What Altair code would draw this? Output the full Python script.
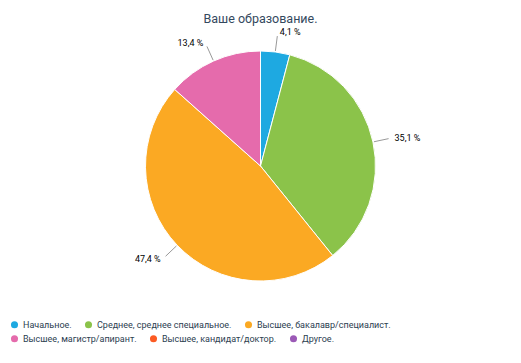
import altair as alt
import pandas as pd

categories = ["Начальное.", "Среднее, среднее специальное.", "Высшее, бакалавр/специалист.",
              "Высшее, магистр/апирант.", "Высшее, кандидат/доктор.", "Другое."]
values = [4.1, 35.1, 47.4, 13.4, 0.0, 0.0]
labels = ["4,1 %", "35,1 %", "47,4 %", "13,4 %", "", ""]
colors = ["#1ea9e1", "#8bc34a", "#fba923", "#e56bac", "#fc5b23", "#9b59b6"]

W, H = 505, 264
CX, CY, R = W / 2, H / 2, 115

df = pd.DataFrame({"category": categories, "value": values, "label": labels,
                   "order": list(range(len(categories)))})

base = (
    alt.Chart(df)
    .transform_window(cum="sum(value)", sort=[alt.SortField("order")], frame=[None, 0])
    .transform_joinaggregate(total="sum(value)")
    .transform_calculate(mid="(datum.cum - datum.value/2)/datum.total*2*PI")
    .transform_calculate(
        x1=f"{CX} + {R + 1}*sin(datum.mid)", y1=f"{CY} - {R + 1}*cos(datum.mid)",
        x2=f"{CX} + {R + 16}*sin(datum.mid)", y2=f"{CY} - {R + 16}*cos(datum.mid)",
        xt=f"{CX} + {R + 20}*sin(datum.mid)", yt=f"{CY} - {R + 20}*cos(datum.mid)",
    )
)

pie = base.mark_arc(outerRadius=R, stroke="white", strokeWidth=1).encode(
    theta=alt.Theta("value:Q", stack=True),
    color=alt.Color("category:N", scale=alt.Scale(domain=categories, range=colors),
                    legend=None),
    order=alt.Order("order:Q"),
)


def legend_layer(cats, cols, ly):
    return (
        alt.Chart(df)
        .transform_filter(alt.FieldOneOfPredicate(field="category", oneOf=cats))
        .mark_point(filled=True, opacity=0, size=1)
        .encode(
            color=alt.Color(
                "category:N",
                scale=alt.Scale(domain=cats, range=cols),
                sort=cats,
                legend=alt.Legend(
                    title=None, orient="none", legendX=2, legendY=ly,
                    direction="horizontal", symbolType="circle", symbolSize=50,
                    symbolOpacity=1, symbolStrokeWidth=0, padding=0,
                    labelFontSize=9, labelColor="#2c3e50", labelFont="Roboto",
                    columnPadding=12, labelOffset=4,
                ),
            )
        )
    )


leg1 = legend_layer(categories[:3], colors[:3], 286)
leg2 = legend_layer(categories[3:], colors[3:], 300)

lab = base.transform_filter("datum.value > 0")

leaders = lab.mark_rule(color="#999999", strokeWidth=1).encode(
    x=alt.X("x1:Q", scale=None, axis=None), y=alt.Y("y1:Q", scale=None, axis=None),
    x2="x2:Q", y2="y2:Q",
)

right_txt = lab.transform_filter("sin(datum.mid) >= 0").mark_text(
    align="left", baseline="middle", fontSize=9, font="Roboto", color="#000000", dx=2
).encode(x=alt.X("xt:Q", scale=None, axis=None), y=alt.Y("yt:Q", scale=None, axis=None),
         text="label:N")

left_txt = lab.transform_filter("sin(datum.mid) < 0").mark_text(
    align="right", baseline="middle", fontSize=9, font="Roboto", color="#000000", dx=-2
).encode(x=alt.X("xt:Q", scale=None, axis=None), y=alt.Y("yt:Q", scale=None, axis=None),
         text="label:N")

chart = (
    alt.layer(pie, leaders, right_txt, left_txt, leg1, leg2)
    .resolve_scale(color="independent")
    .properties(
        width=W, height=H,
        autosize=alt.AutoSizeParams(type="none"),
        padding={"left": 0, "right": 0, "top": 26, "bottom": 60},
        view=alt.ViewBackground(stroke="transparent", strokeWidth=0),
        title=alt.TitleParams("Ваше образование.", fontSize=12.5, font="Roboto",
                              fontWeight="normal", color="#34495e", offset=3),
    )
    .configure_view(stroke="transparent", strokeWidth=0)
    .configure(background="white")
)

chart.save("out.html", embed_options={"renderer": "svg", "actions": False})
